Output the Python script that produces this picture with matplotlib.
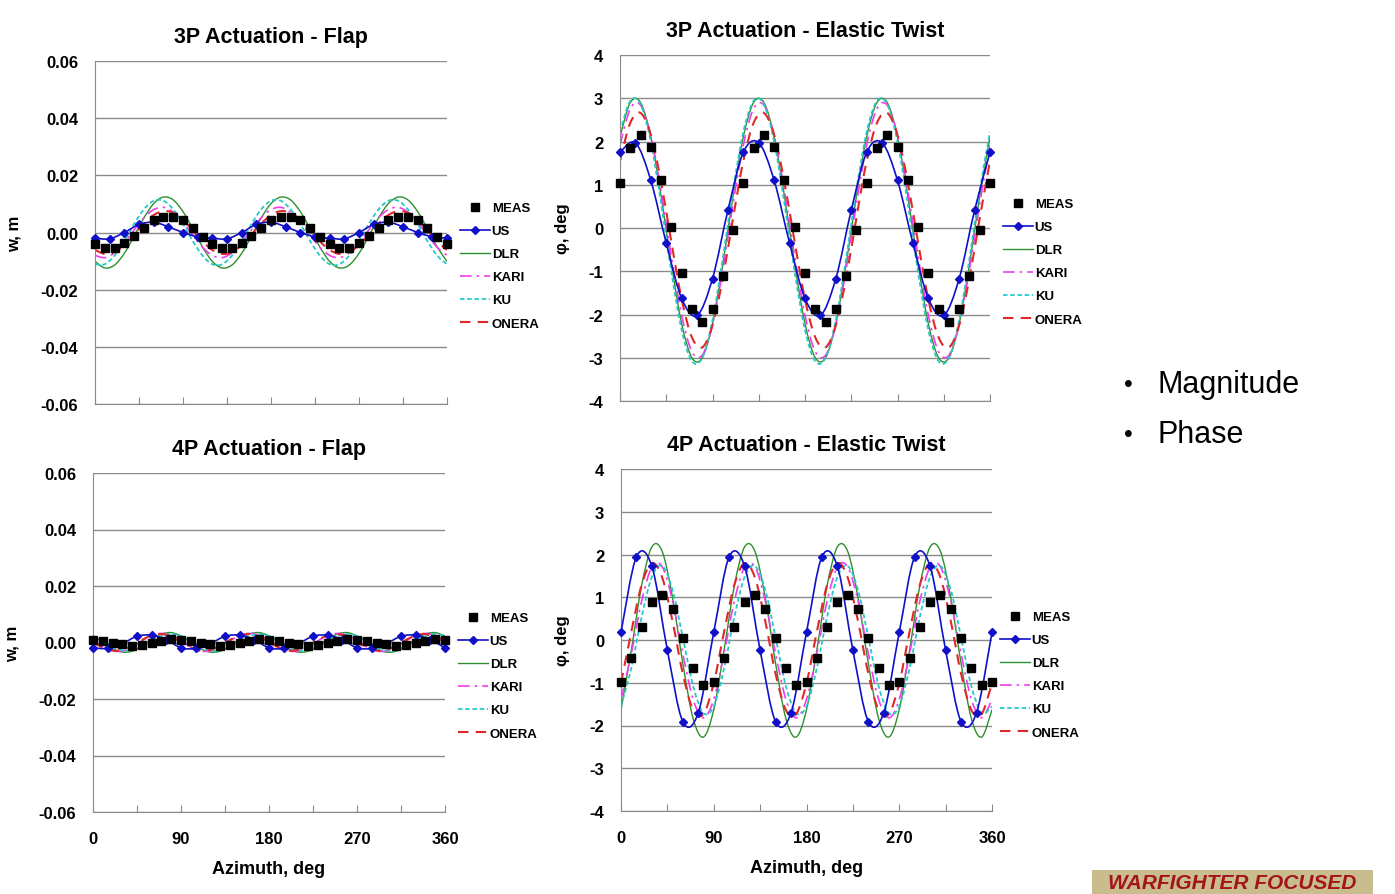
import numpy as np
import matplotlib
matplotlib.use('Agg')
import matplotlib.pyplot as plt
from matplotlib.path import Path
from matplotlib.patches import PathPatch, Rectangle
from matplotlib.lines import Line2D

plt.rcParams['font.family'] = ['Liberation Sans', 'DejaVu Sans']
plt.rcParams['font.weight'] = 'bold'

# azimuth stations, deg
azimuth = list(range(0, 361, 10))
azimuth_us = list(range(0, 361, 15))
series_names = ['MEAS', 'US', 'DLR', 'KARI', 'KU', 'ONERA']

# ---- 3P actuation, flap (w, m)
flap3_meas = [-0.0039, -0.0054, -0.0054, -0.0037, -0.0012, 0.0017, 0.0044, 0.0055, 0.0055, 0.0042, 0.0015, -0.0016,
              -0.0039, -0.0054, -0.0053, -0.0037, -0.0012, 0.0016, 0.0044, 0.0055, 0.0055, 0.0042, 0.0015, -0.0016,
              -0.0039, -0.0054, -0.0054, -0.0038, -0.0012, 0.0017, 0.0044, 0.0055, 0.0055, 0.0042, 0.0015, -0.0016,
              -0.0039]
flap3_us = [-0.0020, -0.0022, 0.0000, 0.0028, 0.0036, 0.0020, 0.0000, -0.0015,
            -0.0020, -0.0022, 0.0000, 0.0028, 0.0036, 0.0020, 0.0000, -0.0015,
            -0.0020, -0.0022, 0.0000, 0.0028, 0.0036, 0.0020, 0.0000, -0.0015,
            -0.0020]
flap3_dlr = [-0.0101, -0.0124, -0.0114, -0.0073, -0.0013, 0.0051, 0.0101, 0.0124, 0.0114, 0.0073, 0.0013, -0.0051,
             -0.0101, -0.0124, -0.0114, -0.0073, -0.0013, 0.0051, 0.0101, 0.0124, 0.0114, 0.0073, 0.0013, -0.0051,
             -0.0101, -0.0124, -0.0114, -0.0073, -0.0013, 0.0051, 0.0101, 0.0124, 0.0114, 0.0073, 0.0013, -0.0051,
             -0.0101]
flap3_kari = [-0.0080, -0.0088, -0.0071, -0.0036, 0.0009, 0.0052, 0.0080, 0.0088, 0.0071, 0.0036, -0.0009, -0.0052,
              -0.0080, -0.0088, -0.0071, -0.0036, 0.0009, 0.0052, 0.0080, 0.0088, 0.0071, 0.0036, -0.0009, -0.0052,
              -0.0080, -0.0088, -0.0071, -0.0036, 0.0009, 0.0052, 0.0080, 0.0088, 0.0071, 0.0036, -0.0009, -0.0052,
              -0.0080]
flap3_ku = [-0.0111, -0.0111, -0.0081, -0.0030, 0.0030, 0.0081, 0.0111, 0.0111, 0.0081, 0.0030, -0.0030, -0.0081,
            -0.0111, -0.0111, -0.0081, -0.0030, 0.0030, 0.0081, 0.0111, 0.0111, 0.0081, 0.0030, -0.0030, -0.0081,
            -0.0111, -0.0111, -0.0081, -0.0030, 0.0030, 0.0081, 0.0111, 0.0111, 0.0081, 0.0030, -0.0030, -0.0081,
            -0.0111]
flap3_onera = [-0.0061, -0.0075, -0.0069, -0.0044, -0.0008, 0.0031, 0.0061, 0.0075, 0.0069, 0.0044, 0.0008, -0.0031,
               -0.0061, -0.0075, -0.0069, -0.0044, -0.0008, 0.0031, 0.0061, 0.0075, 0.0069, 0.0044, 0.0008, -0.0031,
               -0.0061, -0.0075, -0.0069, -0.0044, -0.0008, 0.0031, 0.0061, 0.0075, 0.0069, 0.0044, 0.0008, -0.0031,
               -0.0061]

# ---- 3P actuation, elastic twist (phi, deg)
twist3_meas = [1.05, 1.85, 2.16, 1.88, 1.12, 0.02, -1.05, -1.88, -2.18, -1.88, -1.12, -0.04,
               1.05, 1.85, 2.16, 1.88, 1.12, 0.02, -1.05, -1.88, -2.18, -1.88, -1.12, -0.04,
               1.05, 1.85, 2.16, 1.88, 1.12, 0.02, -1.05, -1.88, -2.18, -1.88, -1.12, -0.04,
               1.05]
twist3_us = [1.75, 1.97, 1.10, -0.35, -1.63, -2.02, -1.17, 0.41,
             1.75, 1.97, 1.10, -0.35, -1.63, -2.02, -1.17, 0.41,
             1.75, 1.97, 1.10, -0.35, -1.63, -2.02, -1.17, 0.41,
             1.75]
twist3_dlr = [2.11, 2.90, 2.90, 2.11, 0.74, -0.84, -2.21, -3.00, -3.00, -2.21, -0.84, 0.74,
              2.11, 2.90, 2.90, 2.11, 0.74, -0.84, -2.21, -3.00, -3.00, -2.21, -0.84, 0.74,
              2.11, 2.90, 2.90, 2.11, 0.74, -0.84, -2.21, -3.00, -3.00, -2.21, -0.84, 0.74,
              2.11]
twist3_kari = [1.92, 2.76, 2.84, 2.14, 0.86, -0.66, -2.02, -2.86, -2.94, -2.24, -0.96, 0.56,
               1.92, 2.76, 2.84, 2.14, 0.86, -0.66, -2.02, -2.86, -2.94, -2.24, -0.96, 0.56,
               1.92, 2.76, 2.84, 2.14, 0.86, -0.66, -2.02, -2.86, -2.94, -2.24, -0.96, 0.56,
               1.92]
twist3_ku = [2.22, 2.94, 2.86, 1.99, 0.57, -1.02, -2.36, -3.08, -3.00, -2.13, -0.71, 0.88,
             2.22, 2.94, 2.86, 1.99, 0.57, -1.02, -2.36, -3.08, -3.00, -2.13, -0.71, 0.88,
             2.22, 2.94, 2.86, 1.99, 0.57, -1.02, -2.36, -3.08, -3.00, -2.13, -0.71, 0.88,
             2.22]
twist3_onera = [1.55, 2.43, 2.66, 2.15, 1.06, -0.33, -1.65, -2.53, -2.76, -2.25, -1.16, 0.23,
                1.55, 2.43, 2.66, 2.15, 1.06, -0.33, -1.65, -2.53, -2.76, -2.25, -1.16, 0.23,
                1.55, 2.43, 2.66, 2.15, 1.06, -0.33, -1.65, -2.53, -2.76, -2.25, -1.16, 0.23,
                1.55]

# ---- 4P actuation, flap (w, m)
flap4_meas = [0.0010, 0.0005, -0.0001, -0.0007, -0.0012, -0.0010, -0.0002, 0.0006, 0.0012,
              0.0010, 0.0005, -0.0001, -0.0007, -0.0012, -0.0010, -0.0002, 0.0006, 0.0012,
              0.0010, 0.0005, -0.0001, -0.0007, -0.0012, -0.0010, -0.0002, 0.0006, 0.0012,
              0.0010, 0.0005, -0.0001, -0.0007, -0.0012, -0.0010, -0.0002, 0.0006, 0.0012,
              0.0010]
flap4_us = [-0.0019, -0.0021, -0.0004, 0.0022, 0.0026, 0.0010,
            -0.0019, -0.0021, -0.0004, 0.0022, 0.0026, 0.0010,
            -0.0019, -0.0021, -0.0004, 0.0022, 0.0026, 0.0010,
            -0.0019, -0.0021, -0.0004, 0.0022, 0.0026, 0.0010,
            -0.0019]
flap4_dlr = [0.0023, 0.0001, -0.0022, -0.0034, -0.0031, -0.0013, 0.0011, 0.0030, 0.0035,
             0.0023, 0.0001, -0.0022, -0.0034, -0.0031, -0.0013, 0.0011, 0.0030, 0.0035,
             0.0023, 0.0001, -0.0022, -0.0034, -0.0031, -0.0013, 0.0011, 0.0030, 0.0035,
             0.0023, 0.0001, -0.0022, -0.0034, -0.0031, -0.0013, 0.0011, 0.0030, 0.0035,
             0.0023]
flap4_kari = [0.0006, -0.0016, -0.0030, -0.0030, -0.0016, 0.0006, 0.0025, 0.0032, 0.0025,
              0.0006, -0.0016, -0.0030, -0.0030, -0.0016, 0.0006, 0.0025, 0.0032, 0.0025,
              0.0006, -0.0016, -0.0030, -0.0030, -0.0016, 0.0006, 0.0025, 0.0032, 0.0025,
              0.0006, -0.0016, -0.0030, -0.0030, -0.0016, 0.0006, 0.0025, 0.0032, 0.0025,
              0.0006]
flap4_ku = [0.0023, 0.0005, -0.0015, -0.0028, -0.0028, -0.0015, 0.0005, 0.0023, 0.0030,
            0.0023, 0.0005, -0.0015, -0.0028, -0.0028, -0.0015, 0.0005, 0.0023, 0.0030,
            0.0023, 0.0005, -0.0015, -0.0028, -0.0028, -0.0015, 0.0005, 0.0023, 0.0030,
            0.0023, 0.0005, -0.0015, -0.0028, -0.0028, -0.0015, 0.0005, 0.0023, 0.0030,
            0.0023]
flap4_onera = [0.0001, -0.0018, -0.0029, -0.0026, -0.0011, 0.0009, 0.0025, 0.0030, 0.0020,
               0.0001, -0.0018, -0.0029, -0.0026, -0.0011, 0.0009, 0.0025, 0.0030, 0.0020,
               0.0001, -0.0018, -0.0029, -0.0026, -0.0011, 0.0009, 0.0025, 0.0030, 0.0020,
               0.0001, -0.0018, -0.0029, -0.0026, -0.0011, 0.0009, 0.0025, 0.0030, 0.0020,
               0.0001]

# ---- 4P actuation, elastic twist (phi, deg)
twist4_meas = [-0.98, -0.42, 0.31, 0.90, 1.06, 0.73, 0.04, -0.66, -1.05,
               -0.98, -0.42, 0.31, 0.90, 1.06, 0.73, 0.04, -0.66, -1.05,
               -0.98, -0.42, 0.31, 0.90, 1.06, 0.73, 0.04, -0.66, -1.05,
               -0.98, -0.42, 0.31, 0.90, 1.06, 0.73, 0.04, -0.66, -1.05,
               -0.98]
twist4_us = [0.18, 1.95, 1.72, -0.24, -1.91, -1.70,
             0.18, 1.95, 1.72, -0.24, -1.91, -1.70,
             0.18, 1.95, 1.72, -0.24, -1.91, -1.70,
             0.18, 1.95, 1.72, -0.24, -1.91, -1.70,
             0.18]
twist4_dlr = [-1.63, -0.24, 1.27, 2.18, 2.07, 0.99, -0.55, -1.84, -2.27,
              -1.63, -0.24, 1.27, 2.18, 2.07, 0.99, -0.55, -1.84, -2.27,
              -1.63, -0.24, 1.27, 2.18, 2.07, 0.99, -0.55, -1.84, -2.27,
              -1.63, -0.24, 1.27, 2.18, 2.07, 0.99, -0.55, -1.84, -2.27,
              -1.63]
twist4_kari = [-1.39, -0.32, 0.91, 1.71, 1.71, 0.91, -0.32, -1.39, -1.82,
               -1.39, -0.32, 0.91, 1.71, 1.71, 0.91, -0.32, -1.39, -1.82,
               -1.39, -0.32, 0.91, 1.71, 1.71, 0.91, -0.32, -1.39, -1.82,
               -1.39, -0.32, 0.91, 1.71, 1.71, 0.91, -0.32, -1.39, -1.82,
               -1.39]
twist4_ku = [-1.55, -0.66, 0.54, 1.48, 1.73, 1.17, 0.06, -1.08, -1.71,
             -1.55, -0.66, 0.54, 1.48, 1.73, 1.17, 0.06, -1.08, -1.71,
             -1.55, -0.66, 0.54, 1.48, 1.73, 1.17, 0.06, -1.08, -1.71,
             -1.55, -0.66, 0.54, 1.48, 1.73, 1.17, 0.06, -1.08, -1.71,
             -1.55]
twist4_onera = [-1.01, 0.19, 1.29, 1.80, 1.46, 0.44, -0.79, -1.64, -1.73,
                -1.01, 0.19, 1.29, 1.80, 1.46, 0.44, -0.79, -1.64, -1.73,
                -1.01, 0.19, 1.29, 1.80, 1.46, 0.44, -0.79, -1.64, -1.73,
                -1.01, 0.19, 1.29, 1.80, 1.46, 0.44, -0.79, -1.64, -1.73,
                -1.01]

flap_ticks = [-0.06, -0.04, -0.02, 0.0, 0.02, 0.04, 0.06]
twist_ticks = [-4, -3, -2, -1, 0, 1, 2, 3, 4]
az_ticks = list(range(0, 361, 45))
az_labels = ['0', '', '90', '', '180', '', '270', '', '360']

us_color = '#1010c8'
styles = {
    'DLR': dict(color='#2e8f2e', ls='-', lw=1.0),
    'KARI': dict(color='#f03cf0', ls=(0, (7, 3, 1.5, 3)), lw=1.2),
    'KU': dict(color='#26c9c9', ls=(0, (2.5, 1.5)), lw=1.3),
    'ONERA': dict(color='#e02828', ls=(0, (5, 3.5)), lw=1.5),
}


def smooth(ax, x, y, color, ls, lw, z):
    # excel-style smoothed line: cubic bezier through the points
    x = np.asarray(x, float)
    y = np.asarray(y, float)
    n = len(x)
    verts = [(x[0], y[0])]
    codes = [Path.MOVETO]
    for i in range(n - 1):
        a = max(i - 1, 0)
        b = min(i + 2, n - 1)
        c1 = (x[i] + (x[i+1] - x[a]) / 6, y[i] + (y[i+1] - y[a]) / 6)
        c2 = (x[i+1] - (x[b] - x[i]) / 6, y[i+1] - (y[b] - y[i]) / 6)
        verts += [c1, c2, (x[i+1], y[i+1])]
        codes += [Path.CURVE4] * 3
    ax.add_patch(PathPatch(Path(verts, codes), fill=False, edgecolor=color,
                           linestyle=ls, linewidth=lw, zorder=z))


W, H = 1395, 895
fig = plt.figure(figsize=(W / 100, H / 100), dpi=100)


def px_rect(l, r, t, b):
    return [l / W, 1 - b / H, (r - l) / W, (b - t) / H]


panels = [
    dict(rect=px_rect(95, 447, 62, 405), title='3P Actuation - Flap', ylabel='w, m',
         ylim=(-0.06, 0.06), ticks=flap_ticks, fmt='{:.2f}', bottom=False,
         data=[flap3_meas, flap3_us, flap3_dlr, flap3_kari, flap3_ku, flap3_onera],
         leg=(460, 203), ylx=22),
    dict(rect=px_rect(620, 990, 56, 402), title='3P Actuation - Elastic Twist', ylabel='φ, deg',
         ylim=(-4, 4), ticks=twist_ticks, fmt='{:d}', bottom=False,
         data=[twist3_meas, twist3_us, twist3_dlr, twist3_kari, twist3_ku, twist3_onera],
         leg=(1003, 199), ylx=570),
    dict(rect=px_rect(93, 445, 474, 813), title='4P Actuation - Flap', ylabel='w, m',
         ylim=(-0.06, 0.06), ticks=flap_ticks, fmt='{:.2f}', bottom=True,
         data=[flap4_meas, flap4_us, flap4_dlr, flap4_kari, flap4_ku, flap4_onera],
         leg=(458, 613), ylx=20),
    dict(rect=px_rect(621, 992, 470, 812), title='4P Actuation - Elastic Twist', ylabel='φ, deg',
         ylim=(-4, 4), ticks=twist_ticks, fmt='{:d}', bottom=True,
         data=[twist4_meas, twist4_us, twist4_dlr, twist4_kari, twist4_ku, twist4_onera],
         leg=(1000, 612), ylx=570),
]

for p in panels:
    ax = fig.add_axes(p['rect'])
    meas, us, dlr, kari, ku, onera = p['data']
    ax.set_xlim(0, 360)
    ax.set_ylim(*p['ylim'])

    z = 2
    for name, vals in [('DLR', dlr), ('KARI', kari), ('KU', ku), ('ONERA', onera)]:
        st = styles[name]
        smooth(ax, azimuth, vals, st['color'], st['ls'], st['lw'], z)
        z += 0.1
    smooth(ax, azimuth_us, us, us_color, '-', 1.2, 3)
    ax.plot(azimuth_us, us, ls='none', marker='D', ms=4.2, color=us_color, zorder=3.1, clip_on=False)
    ax.plot(azimuth, meas, ls='none', marker='s', ms=5.5, color='black', zorder=4, clip_on=False)

    ax.set_yticks(p['ticks'])
    ax.set_yticklabels([p['fmt'].format(v) for v in p['ticks']])
    ax.set_xticks(az_ticks)
    ax.set_xticklabels(az_labels)
    ax.grid(axis='y', color='#8a8a8a', lw=1.0)
    ax.set_axisbelow(True)
    for s in ['top', 'right']:
        ax.spines[s].set_visible(False)
    for s in ['left', 'bottom']:
        ax.spines[s].set_color('#8a8a8a')
    ax.tick_params(axis='y', length=0, pad=12, labelsize=12)
    ax.tick_params(axis='x', direction='in', length=5, color='#8a8a8a', pad=14,
                   labelsize=12, labelbottom=p['bottom'])
    ax.set_title(p['title'], fontsize=15.5, fontweight='bold', pad=14)
    if p['bottom']:
        ax.set_xlabel('Azimuth, deg', fontsize=13, fontweight='bold', labelpad=10)
    ax.set_ylabel(p['ylabel'], fontsize=12, fontweight='bold')
    ax.yaxis.set_label_coords((p['ylx'] - p['rect'][0] * W) / (p['rect'][2] * W), 0.5)

    handles = [Line2D([], [], ls='none', marker='s', ms=5.5, color='black', label='MEAS'),
               Line2D([], [], color=us_color, lw=1.2, marker='D', ms=4.2, label='US')]
    for name in ['DLR', 'KARI', 'KU', 'ONERA']:
        st = styles[name]
        handles.append(Line2D([], [], color=st['color'], ls=st['ls'], lw=st['lw'], label=name))
    lx, ly = p['leg']
    ax.legend(handles=handles, loc='upper left', bbox_to_anchor=(lx / W, 1 - ly / H),
              bbox_transform=fig.transFigure, frameon=False, fontsize=9.5, numpoints=1,
              handlelength=2.3, handletextpad=0.1, labelspacing=0.82, borderpad=0, borderaxespad=0)

# bullets on the right
for label, yy in [('Magnitude', 385), ('Phase', 435)]:
    fig.text(1124 / W, 1 - yy / H, '•', fontsize=18, fontweight='normal', va='center')
    fig.text(1158 / W, 1 - yy / H, label, fontsize=22, fontweight='normal', va='center')

# footer banner at the bottom edge
fig.patches.append(Rectangle((1092 / W, 0), (1373 - 1092) / W, (H - 871) / H,
                             transform=fig.transFigure, facecolor='#c9bd8e', edgecolor='none'))
fig.text(1232 / W, 1 - 884 / H, 'WARFIGHTER FOCUSED', fontsize=15, fontweight='bold',
         fontstyle='italic', color='#a3141c', va='center', ha='center')

fig.savefig('out.png', dpi=100)
